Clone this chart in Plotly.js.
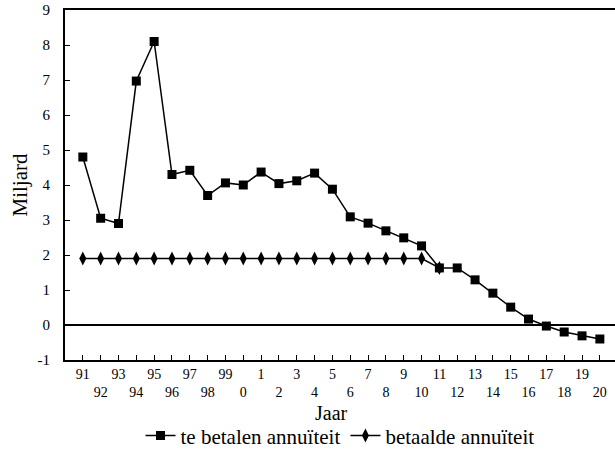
<!DOCTYPE html>
<html><head><meta charset="utf-8">
<script src="https://cdn.plot.ly/plotly-3.0.1.min.js"></script>
<style>html,body{margin:0;padding:0;background:#fff}#chart{width:615px;height:452px}</style>
</head><body><div id="chart"></div>
<script>
const years = ["91","92","93","94","95","96","97","98","99","0","1","2","3","4","5","6","7","8","9","10","11","12","13","14","15","16","17","18","19","20"];
const teBetalen = [4.8,3.05,2.9,6.97,8.1,4.3,4.42,3.7,4.06,4.0,4.37,4.04,4.12,4.34,3.88,3.09,2.91,2.69,2.49,2.26,1.63,1.63,1.29,0.91,0.51,0.17,-0.03,-0.2,-0.31,-0.4];
const betaaldeYears = ["91","92","93","94","95","96","97","98","99","0","1","2","3","4","5","6","7","8","9","10","11"];
const betaalde = [1.9,1.9,1.9,1.9,1.9,1.9,1.9,1.9,1.9,1.9,1.9,1.9,1.9,1.9,1.9,1.9,1.9,1.9,1.9,1.9,1.63];
const yTickVals = [-1,0,1,2,3,4,5,6,7,8,9];
const yTickText = ["-1","0","1","2","3","4","5","6","7","8","9"];
const xTitle = "Jaar";
const tickText = years.map((y,i)=> i%2===0 ? y : "<br>"+y);
const serif = "Liberation Serif";

const traces = [
  {x: betaaldeYears, y: betaalde, name: "betaalde annuïteit", type: "scatter", mode: "lines+markers",
   line: {color: "#000", width: 1.5}, marker: {symbol: "diamond-tall", size: 10, color: "#000"}},
  {x: years, y: teBetalen, name: "te betalen annuïteit", type: "scatter", mode: "lines+markers",
   line: {color: "#000", width: 1.5}, marker: {symbol: "square", size: 9, color: "#000"}}
];

const layout = {
  width: 615, height: 452,
  margin: {l: 65, r: 0, t: 10, b: 92, autoexpand: false},
  paper_bgcolor: "#fff", plot_bgcolor: "#fff",
  font: {family: serif, color: "#000", size: 15},
  showlegend: true,
  legend: {orientation: "h", x: 0.5, xanchor: "center", yref: "container", y: 0.036, yanchor: "middle",
           font: {family: serif, size: 21}, traceorder: "reversed", itemwidth: 30},
  annotations: [{text: xTitle, xref: "paper", yref: "paper", x: 0.484, y: -0.152,
                 xanchor: "center", yanchor: "middle", showarrow: false,
                 font: {family: serif, size: 20, color: "#000"}}],
  xaxis: {type: "category", range: [-1.0, 29.85], tickvals: years, ticktext: tickText, automargin: false,
          showline: true, linecolor: "#000", linewidth: 2, mirror: true,
          ticks: "inside", ticklen: 5, tickcolor: "#000", showgrid: false, zeroline: false,
          tickfont: {family: serif, size: 14}, tickangle: 0},
  yaxis: {range: [-1, 9], tickvals: yTickVals, ticktext: yTickText, automargin: false, showline: true, linecolor: "#000", linewidth: 2,
          ticks: "inside", ticklen: 5, tickcolor: "#000", showgrid: false,
          zeroline: true, zerolinecolor: "#000", zerolinewidth: 1.5,
          tickfont: {family: serif, size: 15}, ticklabelstandoff: 10,
          title: {text: "Miljard", font: {family: serif, size: 21}, standoff: 4}}
};
Plotly.newPlot("chart", traces, layout, {displayModeBar: false, staticPlot: true});
</script></body></html>
